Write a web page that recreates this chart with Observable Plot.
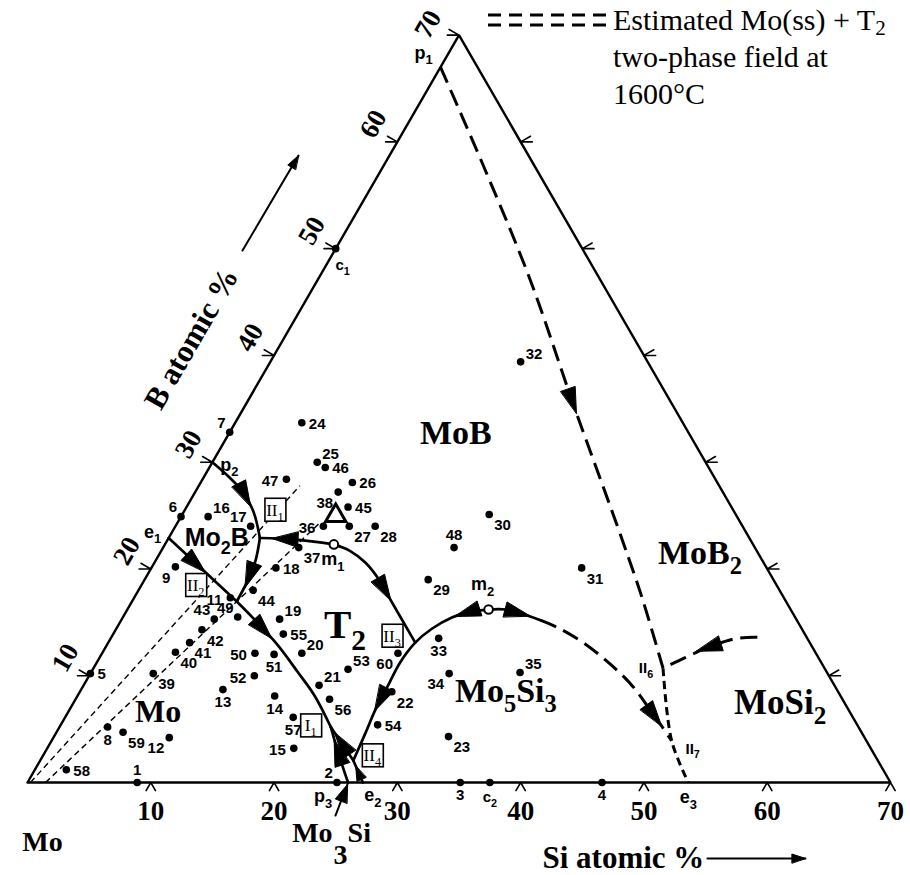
<!DOCTYPE html>
<html>
<head>
<meta charset="utf-8">
<script src="https://cdn.jsdelivr.net/npm/d3@7"></script>
<script src="https://cdn.jsdelivr.net/npm/@observablehq/plot@0.6"></script>
<style>
  body { margin: 0; background: #fff; }
  #wrap { position: relative; width: 910px; height: 875px; }
  #legend { position: absolute; left: 488px; top: 0; }
  #legend .txt { position: absolute; left: 125px; top: 1px; white-space: nowrap;
    font-family: "Liberation Serif", "Times New Roman", serif; font-size: 30px; line-height: 37px; color: #000; }
  #legend .sub { font-size: 70%; vertical-align: -0.25em; line-height: 0; }
</style>
</head>
<body>
<div id="wrap">
  <div id="legend">
    <svg width="122" height="32" style="position:absolute;left:0;top:0">
      <line x1="0" y1="15" x2="118" y2="15" stroke="#000" stroke-width="3" stroke-dasharray="13 8"/>
      <line x1="0" y1="25" x2="118" y2="25" stroke="#000" stroke-width="3" stroke-dasharray="13 8"/>
    </svg>
    <div class="txt">Estimated Mo(ss) + T<span class="sub">2</span><br>two-phase field at<br>1600°C</div>
  </div>
</div>
<script>
// Mo–Si–B ternary (Mo-rich corner): liquidus projection with sample compositions.
// Compositions are given as at.% Si and at.% B (Mo is the balance).

// ---- sample alloys ----
const sampleIds = [1,2,3,4,5,6,7,8,9,11,12,13,14,15,16,17,18,19,20,21,22,23,24,25,26,27,28,29,30,
  31,32,33,34,35,36,37,38,39,40,41,42,43,44,45,46,47,48,49,50,51,52,53,54,55,56,57,58,59,60];
const sampleSi = [8.9,25.1,35.1,46.6,0,0,0,3.9,1.9,7.8,9.4,11.5,16.0,20.0,2.2,6.1,10.1,12.8,16.2,19.1,25.3,32.0,5.4,8.5,12.3,14.1,16.2,23.0,24.9,
  34.9,20.3,26.6,29.1,34.8,12.0,11.0,11.6,5.1,5.9,6.6,7.0,7.5,9.3,13.1,9.4,6.8,23.6,9.3,12.4,14.0,13.4,20.7,25.7,13.8,20.6,18.5,2.55,5.4,24.0];
const sampleB = [0,0,0,0,10.2,24.9,32.8,5.2,20.2,17.3,4.2,8.7,8.1,3.2,24.9,24.0,20.1,15.3,12.1,9.1,8.5,4.3,33.7,30.0,28.1,24.0,24.0,19.0,25.1,
  20.1,39.4,13.5,10.2,10.3,24.0,22.0,27.2,10.2,12.2,13.1,14.3,15.3,18.0,25.8,29.5,28.4,22.0,15.5,12.1,12.0,10.0,10.6,5.4,13.9,7.8,6.1,1.2,4.7,12.1];
const sampleLabelSide = ["n","nw","s","s","e","nw","nw","s","sw","w","sw","s","s","w","ne","nw","e","ne","ne","ne","se","se","e","ne","e","se","se","se","se",
  "se","ne","s","sw","ne","w","se","sw","se","se","se","se","nw","se","e","e","w","n","nw","w","s","w","ne","e","e","se","s","e","se","sw"];

// ---- invariant and special points ----
const specialNames = ["p_1","p_2","p_3","e_1","e_2","e_3","m_1","m_2","c_1","c_2","II_6","II_7"];
const specialSi = [0,0,26.0,0,27.2,53.6,13.7,29.3,0,37.5,46.2,50.3];
const specialB = [67,30,0,22.9,0,0,22.3,16.2,50,0,10.7,3.9];
const specialMarker = ["none","none","none","none","none","none","open","open","dot","dot","none","none"];

// ---- four-phase reaction boxes ----
const boxNames = ["II_1","II_2","II_3","II_4","I_1"];
const boxSi = [7.4,4.5,22.8,26.8,20.4];
const boxB = [25.5,18.45,13.7,2.5,5.3];

// ---- primary phase fields ----
const phaseNames = ["MoB","MoB_2","MoSi_2","Mo_5Si_3","T_2","Mo","Mo_2B"];
const phaseSi = [18.4,43.8,57.3,34.5,18.35,7.3,3.9];
const phaseB = [32.7,21.5,7.5,8.6,14.8,6.6,22.9];

// T2 (Mo5SiB2) composition
const t2Si = 12.5, t2B = 25;

// ---- axis ticks ----
const siTicks = [10,20,30,40,50,60,70];
const bTicks = [10,20,30,40,50,60,70];
const rightTicks = [10,20,30,40,50,60];

// ---- monovariant curves, [Si, B] ----
const p2ToU1 = [[0,30],[2.2,28.5],[4.0,27.1],[5.7,25.3],[7.4,22.9]];
const e1ToU2 = [[0,22.9],[8.5,16.95]];
const u1ToU2 = [[7.4,22.9],[8.1,20.8],[8.4,19.0],[8.5,16.95]];
const m1ToU1 = [[13.7,22.3],[10.4,22.75],[7.4,22.9]];
const m1ToII3 = [[13.7,22.3],[15.3,21.7],[17.1,20.6],[18.9,19.1],[20.8,17.2],[22.8,15.2],[24.9,13.1]];
const m2ToII4 = [[29.3,16.2],[27.9,16.0],[26.7,15.45],[25.6,14.4],[24.9,13.1],[24.6,11.2],[24.7,9.1],[24.8,6.9],[25.1,4.6],[25.4,2.06]];
const m2ToII7a = [[29.3,16.2],[30.7,16.2],[32.2,15.8],[34.0,15.2]];
const m2ToII7b = [[34.0,15.2],[36.0,14.4],[38.7,13.0],[41.7,11.1],[44.6,9.0],[47.2,6.7],[49.0,5.1],[50.3,3.9]];
const u2ToI1 = [[8.5,16.95],[10.6,15.4],[13.7,13.0],[16.8,10.3],[19.2,8.15],[22.0,5.2]];
const i1ToP3 = [[22.0,5.2],[23.8,2.8],[26.0,0]];
const i1ToII4 = [[22.0,5.2],[25.4,2.06]];
const ii4ToE2 = [[25.4,2.06],[27.2,0]];
const p1ToII6 = [[0,67],[8.5,57.3],[17.3,47.0],[26.5,35.5],[36.9,22.7],[41.2,17.3],[46.2,10.7]];
const ii6ToE3 = [[46.2,10.7],[50.3,3.9],[53.6,0]];
const mosi2ToII6 = [[52.4,13.6],[50.8,13.5],[48.8,12.6],[47.5,11.7],[46.2,10.7]];

// estimated Mo(ss) + T2 two-phase field boundaries
const fieldEdgeA = [[0.24,0],[8.2,27.8]];
const fieldEdgeB = [[1.46,0],[11.5,24.2]];

// ---- geometry helpers: composition -> cartesian plot units ----
const SQ = Math.sqrt(3) / 2;
const cx = (si, b) => si + b / 2;
const cy = (si, b) => b * SQ;
const toXY = pts => pts.map(([s, b]) => [cx(s, b), cy(s, b)]);
const rows = (id, xy) => xy.map(([X, Y]) => ({id, X, Y}));

// filled arrowhead on a polyline (cartesian), centred at a fraction of its length
function arrowOn(xy, frac, dir, len = 2.1, half = 0.62) {
  const seg = []; let total = 0;
  for (let i = 1; i < xy.length; i++) {
    const d = Math.hypot(xy[i][0] - xy[i-1][0], xy[i][1] - xy[i-1][1]);
    seg.push(d); total += d;
  }
  let rest = frac * total, i = 0;
  while (i < seg.length - 1 && rest > seg[i]) { rest -= seg[i]; i++; }
  const a = xy[i], b = xy[i+1], t = rest / seg[i];
  const px = a[0] + (b[0] - a[0]) * t, py = a[1] + (b[1] - a[1]) * t;
  const ux = (b[0] - a[0]) / seg[i] * dir, uy = (b[1] - a[1]) / seg[i] * dir;
  const tip = [px + ux * len / 2, py + uy * len / 2];
  const bx = px - ux * len / 2, by = py - uy * len / 2;
  return [tip, [bx - uy * half, by + ux * half], [bx + uy * half, by - ux * half]];
}
// arrowhead whose tip sits at the end of a straight segment
function arrowTip(from, to, len, half) {
  const d = Math.hypot(to[0] - from[0], to[1] - from[1]);
  const ux = (to[0] - from[0]) / d, uy = (to[1] - from[1]) / d;
  const bx = to[0] - ux * len, by = to[1] - uy * len;
  return [to, [bx - uy * half, by + ux * half], [bx + uy * half, by - ux * half]];
}

// ---- assemble mark data ----
const solidCurves = {p2ToU1, e1ToU2, u1ToU2, m1ToU1, m1ToII3, m2ToII4, m2ToII7a, u2ToI1, i1ToP3, i1ToII4, ii4ToE2};
const solidRows = Object.entries(solidCurves).flatMap(([k, v]) => rows(k, toXY(v)));
const longDashRows = [...rows("p1ToII6", toXY(p1ToII6)), ...rows("m2ToII7b", toXY(m2ToII7b)), ...rows("mosi2ToII6", toXY(mosi2ToII6))];
const shortDashRows = rows("ii6ToE3", toXY(ii6ToE3));
const fieldRows = [...rows("A", toXY(fieldEdgeA)), ...rows("B", toXY(fieldEdgeB))];

const arrowSpecs = [
  [p2ToU1, 0.5, 1], [e1ToU2, 0.4, 1], [u1ToU2, 0.57, 1], [m1ToU1, 0.66, 1], [m1ToII3, 0.53, 1],
  [m2ToII4, 0.1, 1], [m2ToII4, 0.69, 1], [m2ToII7a, 0.55, 1], [m2ToII7b, 0.83, 1], [u2ToI1, 0.24, 1],
  [i1ToP3, 0.46, -1], [i1ToII4, 0.5, -1], [p1ToII6, 0.56, 1], [mosi2ToII6, 0.5, 1]
];
const arrowRows = arrowSpecs.flatMap(([c, f, d], i) => rows("a" + i, arrowOn(toXY(c), f, d)));
arrowRows.push(...rows("aK", arrowOn(toXY(ii4ToE2), 0.55, -1, 1.2, 0.4)));

// triangle outline
const frame = rows("frame", [[0,0],[70,0],[35,70*SQ],[0,0]]);

// tick chevrons
const tickRows = [
  ...siTicks.flatMap(v => rows("s" + v, [[v - 0.38, -0.66], [v, 0], [v + 0.38, -0.66]])),
  ...bTicks.flatMap(v => { const X = cx(0, v), Y = cy(0, v);
    return rows("b" + v, [[X - 0.95, Y], [X, Y], [X - 0.8, Y + 0.46]]); }),
  ...rightTicks.flatMap(v => { const X = cx(70 - v, v), Y = cy(70 - v, v);
    return rows("r" + v, [[X + 0.95, Y], [X, Y], [X + 0.8, Y + 0.46]]); })
];

// annotation arrows below/left of the triangle (cartesian units)
const mo3siArrow = [[24.98, -2.68], [25.95, -0.16]];
const bAxisArrow = [[17.44, 43.15], [21.98, 50.85]];
const siAxisArrow = [[55.15, -6.16], [63.1, -6.16]];
const annotLines = [...rows("m3", mo3siArrow), ...rows("ba", bAxisArrow), ...rows("sa", siAxisArrow)];
const annotHeads = [
  ...rows("hm3", arrowTip(mo3siArrow[0], mo3siArrow[1], 1.45, 0.5)),
  ...rows("hba", arrowTip(bAxisArrow[0], bAxisArrow[1], 1.1, 0.36)),
  ...rows("hsa", arrowTip(siAxisArrow[0], siAxisArrow[1], 1.1, 0.36))
];

const samples = sampleIds.map((id, i) => ({id: String(id), X: cx(sampleSi[i], sampleB[i]), Y: cy(sampleSi[i], sampleB[i]), side: sampleLabelSide[i]}));
const specials = specialNames.map((n, i) => ({name: n, X: cx(specialSi[i], specialB[i]), Y: cy(specialSi[i], specialB[i]), marker: specialMarker[i]}));
const boxes = boxNames.map((n, i) => ({name: n, X: cx(boxSi[i], boxB[i]), Y: cy(boxSi[i], boxB[i])}));
const phases = phaseNames.map((n, i) => ({name: n, X: cx(phaseSi[i], phaseB[i]), Y: cy(phaseSi[i], phaseB[i])}));

const SERIF = '"Liberation Serif", "Times New Roman", serif';
const SANS = '"Liberation Sans", Arial, sans-serif';

// sample label placement around each dot (px offsets, anchor)
const sideOffset = {n: [0, -12, "middle"], s: [0, 13, "middle"], e: [7, 1, "start"], w: [-8, 2, "end"],
  ne: [5, -8, "start"], nw: [-4, -9, "end"], se: [5, 11, "start"], sw: [-5, 11, "end"]};
const sampleLabelMarks = Object.entries(sideOffset).map(([side, [dx, dy, anchor]]) =>
  Plot.text(samples.filter(d => d.side === side), {x: "X", y: "Y", text: "id", dx, dy, textAnchor: anchor,
    fontFamily: SANS, fontWeight: "bold", fontSize: 15, fill: "black"}));

// special point label offsets (px)
const specialOffset = {"p_1": [-17, -14], "p_2": [17, 3], "p_3": [-25, 14], "e_1": [-16, -6], "e_2": [10, 13], "e_3": [0, 15],
  "m_1": [-1, 15], "m_2": [-6, -25], "c_1": [7, 17], "c_2": [0, 15], "II_6": [-17, 0], "II_7": [21, 8]};
const specialLabelMarks = specials.map(d => Plot.text([d], {x: "X", y: "Y", text: "name",
  dx: specialOffset[d.name][0], dy: specialOffset[d.name][1], fontFamily: SANS, fontWeight: "bold",
  fontSize: d.name.startsWith("c") || d.name.startsWith("II") ? 15 : 18, fill: "black"}));

const phaseStyle = {"MoB": [34, SERIF], "MoB_2": [34, SERIF], "MoSi_2": [35, SERIF], "Mo_5Si_3": [34, SERIF],
  "T_2": [41, SERIF], "Mo": [32, SERIF], "Mo_2B": [25, SANS]};
const phaseMarks = phases.map(d => Plot.text([d], {x: "X", y: "Y", text: "name", fontFamily: phaseStyle[d.name][1],
  fontWeight: "bold", fontSize: phaseStyle[d.name][0], fill: "black"}));

// B-axis tick labels: the apex label sits a little lower than the rest
const bLabelOffset = v => v === 70 ? [-31, -11] : [-24, -18];

const chart = Plot.plot({
  width: 910, height: 875, margin: 0,
  x: {domain: [0, 70], range: [27, 890], axis: null},
  y: {domain: [0, 70 * SQ], range: [782, 782 - 863 * SQ], axis: null},
  style: {background: "transparent", overflow: "visible"},
  marks: [
    Plot.line(fieldRows, {x: "X", y: "Y", z: "id", stroke: "black", strokeWidth: 1.4, strokeDasharray: "6,4", strokeLinecap: "butt"}),
    Plot.line(frame, {x: "X", y: "Y", stroke: "black", strokeWidth: 2.4, strokeLinejoin: "miter"}),
    Plot.line(tickRows, {x: "X", y: "Y", z: "id", stroke: "black", strokeWidth: 1.6}),
    Plot.line(solidRows, {x: "X", y: "Y", z: "id", stroke: "black", strokeWidth: 2.7, curve: "catmull-rom"}),
    Plot.line(longDashRows, {x: "X", y: "Y", z: "id", stroke: "black", strokeWidth: 3, strokeDasharray: "17,8", strokeLinecap: "butt", curve: "catmull-rom"}),
    Plot.line(shortDashRows, {x: "X", y: "Y", z: "id", stroke: "black", strokeWidth: 3, strokeDasharray: "8,5", strokeLinecap: "butt", curve: "catmull-rom"}),
    Plot.line(arrowRows, {x: "X", y: "Y", z: "id", fill: "black", stroke: "black", strokeWidth: 1, curve: "linear-closed"}),
    Plot.line(annotLines, {x: "X", y: "Y", z: "id", stroke: "black", strokeWidth: 2}),
    Plot.line(annotHeads, {x: "X", y: "Y", z: "id", fill: "black", stroke: "black", strokeWidth: 1, curve: "linear-closed"}),
    // T2 composition marker
    Plot.dot([{X: cx(t2Si, t2B), Y: cy(t2Si, t2B)}], {x: "X", y: "Y", symbol: "triangle", r: 7.5, fill: "none", stroke: "black", strokeWidth: 3}),
    // reaction boxes
    Plot.rect(boxes, {x1: d => d.X - 0.85, x2: d => d.X + 0.85, y1: d => d.Y - 0.93, y2: d => d.Y + 0.93,
      fill: "white", stroke: "black", strokeWidth: 1.6}),
    Plot.text(boxes, {x: "X", y: "Y", text: "name", fontFamily: SERIF, fontSize: 17, fill: "black", dx: -1}),
    // sample and special points
    Plot.dot(samples, {x: "X", y: "Y", r: 3.8, fill: "black"}),
    Plot.dot(specials.filter(d => d.marker === "dot"), {x: "X", y: "Y", r: 3.8, fill: "black"}),
    Plot.dot(specials.filter(d => d.marker === "open"), {x: "X", y: "Y", r: 4.3, fill: "white", stroke: "black", strokeWidth: 2}),
    ...sampleLabelMarks,
    ...specialLabelMarks,
    ...phaseMarks,
    // tick labels
    Plot.text(siTicks, {x: d => d, y: 0, text: d => String(d), dy: 29, fontFamily: SERIF, fontWeight: "bold", fontSize: 27, fill: "black"}),
    ...bTicks.map(v => Plot.text([v], {x: d => cx(0, d), y: d => cy(0, d), text: d => String(d),
      dx: bLabelOffset(v)[0], dy: bLabelOffset(v)[1], rotate: -60,
      fontFamily: SERIF, fontWeight: "bold", fontSize: 27, fill: "black"})),
    Plot.text(["Mo"], {x: 0, y: 0, text: d => d, dx: 15, dy: 60, fontFamily: SERIF, fontWeight: "bold", fontSize: 28, fill: "black"}),
    Plot.text(["Mo~3Si"], {x: 24.66, y: -4.1, text: d => d, fontFamily: SERIF, fontWeight: "bold", fontSize: 28, fill: "black"}),
    // axis titles
    Plot.text(["B atomic %"], {x: 13.3, y: 36.0, text: d => d, rotate: -60, fontFamily: SERIF, fontWeight: "bold", fontSize: 31, fill: "black"}),
    Plot.text(["Si atomic %"], {x: 54.9, y: -6.1, text: d => d, textAnchor: "end", fontFamily: SERIF, fontWeight: "bold", fontSize: 31, fill: "black"})
  ]
});

document.getElementById("wrap").prepend(chart);

// Render "_x" as a subscript and "~x" as a full-size lowered digit
chart.querySelectorAll("text").forEach(t => {
  const s = t.textContent;
  if (!/[_~]/.test(s)) return;
  const fs = parseFloat(getComputedStyle(t).fontSize);
  while (t.firstChild) t.removeChild(t.firstChild);
  const ns = "http://www.w3.org/2000/svg";
  let buf = "", shift = 0;
  const flush = () => {
    if (!buf) return;
    const sp = document.createElementNS(ns, "tspan");
    sp.textContent = buf;
    if (shift) { sp.setAttribute("dy", -shift); shift = 0; }
    t.appendChild(sp); buf = "";
  };
  for (let i = 0; i < s.length; i++) {
    const c = s[i];
    if ((c === "_" || c === "~") && i + 1 < s.length) {
      flush();
      const sp = document.createElementNS(ns, "tspan");
      const big = c === "~";
      const drop = big ? 0.8 * fs : 0.3 * fs;
      sp.textContent = s[i + 1];
      sp.setAttribute("font-size", (big ? 1.0 : 0.72) * fs);
      sp.setAttribute("dy", drop - shift);
      if (big) sp.setAttribute("dx", 1);
      shift = drop;
      t.appendChild(sp);
      i++;
    } else buf += c;
  }
  flush();
});
</script>
</body>
</html>
